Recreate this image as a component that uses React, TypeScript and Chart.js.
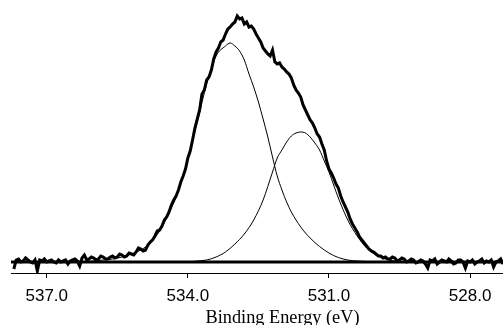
import React, { useEffect, useRef } from "react";
import { Chart, registerables } from "chart.js";

Chart.register(...registerables);

// Binding energy grid (eV) for the measured spectrum
const ENERGY = [
  537.70, 537.65, 537.60, 537.55, 537.50, 537.45, 537.40, 537.35, 537.30, 537.25,
  537.20, 537.15, 537.10, 537.05, 537.00, 536.95, 536.90, 536.85, 536.80, 536.75,
  536.70, 536.65, 536.60, 536.55, 536.50, 536.45, 536.40, 536.35, 536.30, 536.25,
  536.20, 536.15, 536.10, 536.05, 536.00, 535.95, 535.90, 535.85, 535.80, 535.75,
  535.70, 535.65, 535.60, 535.55, 535.50, 535.45, 535.40, 535.35, 535.30, 535.25,
  535.20, 535.15, 535.10, 535.05, 535.00, 534.95, 534.90, 534.85, 534.80, 534.75,
  534.70, 534.65, 534.60, 534.55, 534.50, 534.45, 534.40, 534.35, 534.30, 534.25,
  534.20, 534.15, 534.10, 534.05, 534.00, 533.95, 533.90, 533.85, 533.80, 533.75,
  533.70, 533.65, 533.60, 533.55, 533.50, 533.45, 533.40, 533.35, 533.30, 533.25,
  533.20, 533.15, 533.10, 533.05, 533.00, 532.95, 532.90, 532.85, 532.80, 532.75,
  532.70, 532.65, 532.60, 532.55, 532.50, 532.45, 532.40, 532.35, 532.30, 532.25,
  532.20, 532.15, 532.10, 532.05, 532.00, 531.95, 531.90, 531.85, 531.80, 531.75,
  531.70, 531.65, 531.60, 531.55, 531.50, 531.45, 531.40, 531.35, 531.30, 531.25,
  531.20, 531.15, 531.10, 531.05, 531.00, 530.95, 530.90, 530.85, 530.80, 530.75,
  530.70, 530.65, 530.60, 530.55, 530.50, 530.45, 530.40, 530.35, 530.30, 530.25,
  530.20, 530.15, 530.10, 530.05, 530.00, 529.95, 529.90, 529.85, 529.80, 529.75,
  529.70, 529.65, 529.60, 529.55, 529.50, 529.45, 529.40, 529.35, 529.30, 529.25,
  529.20, 529.15, 529.10, 529.05, 529.00, 528.95, 528.90, 528.85, 528.80, 528.75,
  528.70, 528.65, 528.60, 528.55, 528.50, 528.45, 528.40, 528.35, 528.30, 528.25,
  528.20, 528.15, 528.10, 528.05, 528.00, 527.95, 527.90, 527.85, 527.80, 527.75,
  527.70, 527.65, 527.60, 527.55, 527.50, 527.45, 527.40, 527.35, 527.30,
];

// Measured intensity (background subtracted, arbitrary units)
const MEASURED = [
  -7, 2, 3, 0, 1, 4, 2, 0, -1, 2,
  -9, 2, 1, 3, 0, 1, 2, 0, -1, 2,
  0, 1, 2, -2, 1, 2, 3, 1, -4, 4,
  7, 2, 3, 5, 4, 2, 3, 6, 5, 3,
  3, 5, 6, 4, 5, 8, 7, 5, 6, 9,
  8, 7, 10, 14, 13, 11, 12, 17, 20, 22,
  26, 31, 32, 36, 42, 45, 50, 57, 62, 66,
  72, 80, 86, 93, 104, 111, 122, 134, 143, 152,
  168, 172, 182, 185, 192, 203, 210, 214, 220, 222,
  228, 233, 235, 238, 240, 246, 243, 244, 238, 240,
  235, 236, 233, 228, 224, 220, 214, 211, 208, 206,
  212, 200, 198, 199, 195, 193, 190, 188, 184, 177,
  172, 169, 165, 157, 152, 147, 142, 139, 134, 128,
  125, 118, 112, 101, 93, 89, 84, 78, 74, 66,
  60, 55, 50, 43, 38, 34, 30, 25, 22, 19,
  16, 13, 11, 10, 8, 6, 6, 4, 5, 3,
  3, 5, 4, 1, 2, 4, 3, 0, 1, 3,
  2, -1, 0, 2, 1, -2, -6, 2, 1, 3,
  -2, 0, 2, 1, 0, 3, 1, -2, -1, 2,
  2, 0, -6, 1, 0, 2, -2, 0, 1, 3,
  -1, 1, 0, 2, -5, 0, 1, 3, -2,
];

// Fitted component 1 (higher binding energy)
const PEAK1_E = [
  537.7, 536.5, 536.0, 535.8, 535.6, 535.4, 535.2, 535.0, 534.8, 534.6,
  534.4, 534.2, 534.0, 533.8, 533.6, 533.4, 533.2, 533.1, 533.0, 532.9,
  532.8, 532.7, 532.6, 532.5, 532.4, 532.3, 532.2, 532.1, 532.0, 531.9,
  531.8, 531.7, 531.6, 531.5, 531.4, 531.3, 531.2, 531.1, 531.0, 530.9,
  530.8, 530.6, 530.4, 530.0,
];
const PEAK1_I = [
  0, 0, 1, 2, 3, 5, 8, 12, 19, 31,
  49, 71, 103, 140, 178, 206, 216, 219, 216, 211,
  202, 188, 175, 160, 143, 125, 105, 86, 72, 60,
  50, 42, 35, 29, 24, 19.5, 15.5, 12, 9, 6.5,
  4.5, 2, 1, 0,
];

// Fitted component 2 (lower binding energy)
const PEAK2_E = [
  534.4, 534.0, 533.8, 533.6, 533.4, 533.2, 533.0, 532.8, 532.6, 532.4,
  532.2, 532.1, 532.0, 531.9, 531.8, 531.7, 531.6, 531.5, 531.4, 531.3,
  531.2, 531.1, 531.0, 530.8, 530.6, 530.4, 530.2, 530.0, 529.8, 529.6,
  529.4,
];
const PEAK2_I = [
  0, 0, 1, 2, 5, 10, 18, 28, 42, 62,
  90, 104, 112, 120, 126, 129, 130, 129, 125, 119,
  112, 101, 90, 64, 42, 26, 14, 7, 3, 1,
  0,
];

// Background line
const BASE_E = [537.76, 527.3];
const BASE_I = [0, 0];

const X_TICKS = [537.0, 534.0, 531.0, 528.0];
const X_MIN = 527.3;
const X_MAX = 537.76;
const Y_MIN = -11;
const Y_MAX = 262;
const X_TITLE = "Binding Energy (eV)";

const toXY = (xs: number[], ys: number[]) => xs.map((x, i) => ({ x, y: ys[i] }));

const titlePlugin = {
  id: "xAxisTitle",
  afterDraw(chart: any) {
    const { ctx, chartArea } = chart;
    ctx.save();
    ctx.font = '18.3px "Liberation Serif"';
    ctx.fillStyle = "#000";
    ctx.textAlign = "center";
    ctx.textBaseline = "alphabetic";
    const cx = (chartArea.left + chartArea.right) / 2 + 25.5;
    ctx.fillText(X_TITLE, cx, chartArea.bottom + 50);
    ctx.restore();
  },
};

export default function App() {
  const ref = useRef<HTMLCanvasElement | null>(null);

  useEffect(() => {
    if (!ref.current) return;
    const chart = new Chart(ref.current, {
      type: "line",
      data: {
        datasets: [
          {
            data: toXY(BASE_E, BASE_I),
            borderColor: "#000",
            borderWidth: 3,
            pointRadius: 0,
            tension: 0,
          },
          {
            data: toXY(PEAK1_E, PEAK1_I),
            borderColor: "#000",
            borderWidth: 1,
            pointRadius: 0,
            cubicInterpolationMode: "monotone",
          },
          {
            data: toXY(PEAK2_E, PEAK2_I),
            borderColor: "#000",
            borderWidth: 1,
            pointRadius: 0,
            cubicInterpolationMode: "monotone",
          },
          {
            data: toXY(ENERGY, MEASURED),
            borderColor: "#000",
            borderWidth: 3,
            pointRadius: 0,
            tension: 0,
          },
        ],
      },
      options: {
        animation: false,
        responsive: true,
        maintainAspectRatio: false,
        layout: { padding: { left: 11, right: 0, top: 0, bottom: 10.6 } },
        plugins: {
          legend: { display: false },
          tooltip: { enabled: false },
          title: { display: false },
        },
        scales: {
          x: {
            type: "linear",
            reverse: true,
            min: X_MIN,
            max: X_MAX,
            afterBuildTicks: (s: any) => {
              s.ticks = X_TICKS.map((v) => ({ value: v }));
            },
            grid: {
              display: true,
              drawOnChartArea: false,
              drawTicks: true,
              tickLength: 5,
              color: "#000",
              lineWidth: 1,
            },
            border: { display: true, color: "#000", width: 1 },
            ticks: {
              color: "#000",
              font: { family: "Liberation Sans", size: 17 },
              padding: 8,
              maxRotation: 0,
              autoSkip: false,
              callback: (v: any) => Number(v).toFixed(1),
            },
          },
          y: {
            display: false,
            min: Y_MIN,
            max: Y_MAX,
          },
        },
      },
      plugins: [titlePlugin],
    });
    return () => chart.destroy();
  }, []);

  return (
    <div style={{ position: "fixed", left: 0, top: 0, width: 503, height: 325, background: "#fff" }}>
      <canvas ref={ref} />
    </div>
  );
}
